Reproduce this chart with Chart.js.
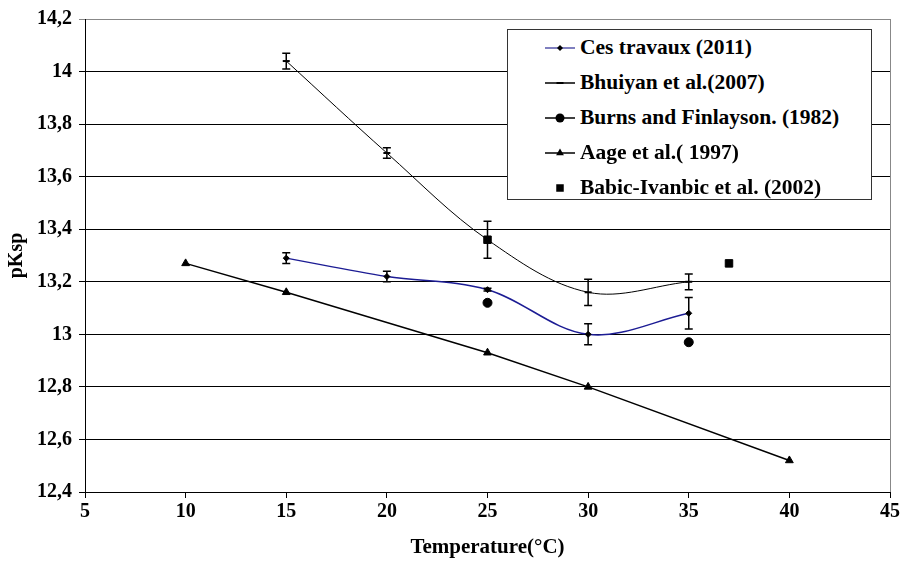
<!DOCTYPE html>
<html>
<head>
<meta charset="utf-8">
<script src="https://cdn.jsdelivr.net/npm/chart.js@4"></script>
<style>
  body { margin: 0; background: #fff; }
  #wrap { position: relative; width: 902px; height: 561px; }
  #legend {
    position: absolute; left: 507px; top: 29px; width: 363px; height: 169px;
    border: 1px solid #333; background: #fff;
    font-family: "Liberation Serif", "DejaVu Serif", serif; font-weight: bold; font-size: 21.5px; color: #000;
  }
  #legend .row { position: absolute; left: 0; height: 35px; display: flex; align-items: center; white-space: nowrap; }
  #legend svg { margin-left: 37px; margin-right: 5px; }
</style>
</head>
<body>
<div id="wrap">
  <canvas id="chart" width="902" height="561"></canvas>
  <div id="legend"></div>
</div>
<script>
const seriesNames = ['Ces travaux (2011)', 'Bhuiyan et al.(2007)', 'Burns and Finlayson. (1982)', 'Aage et al.( 1997)', 'Babic-Ivanbic et al. (2002)'];

const cesX = [15, 20, 25, 30, 35];
const cesY = [13.29, 13.22, 13.17, 13.00, 13.08];
const cesErr = [0.02, 0.02, 0.005, 0.04, 0.06];

const bhuiyanX = [15, 20, 25, 30, 35];
const bhuiyanY = [14.04, 13.69, 13.36, 13.16, 13.20];
const bhuiyanErr = [0.03, 0.02, 0.07, 0.05, 0.03];

const burnsX = [25, 35];
const burnsY = [13.12, 12.97];

const aageX = [10, 15, 25, 30, 40];
const aageY = [13.27, 13.16, 12.93, 12.80, 12.52];

const babicX = [25, 37];
const babicY = [13.36, 13.27];

const xTicks = [5, 10, 15, 20, 25, 30, 35, 40, 45];
const yTicks = [12.4, 12.6, 12.8, 13, 13.2, 13.4, 13.6, 13.8, 14, 14.2];

const pts = (xs, ys) => xs.map((x, i) => ({ x, y: ys[i] }));
const fmt = (v) => String(Number(v.toFixed(1))).replace('.', ',');
const serif = '"Liberation Serif", "DejaVu Serif", serif';

// legendLine: the swatch line drawn in the legend box (Excel keeps it even for marker-only series)
const styles = [
  { line: '#1c1c94', lineWidth: 1.5, shape: 'rectRot', r: 3, tension: 0.35, legendLine: '#5555aa' },
  { line: '#000', lineWidth: 1, shape: 'line', r: 3.5, tension: 0.35, legendLine: '#000' },
  { line: null, shape: 'circle', r: 4.5, legendLine: '#000' },
  { line: '#000', lineWidth: 1.5, shape: 'triangle', r: 4.5, tension: 0, legendLine: '#000' },
  { line: null, shape: 'rect', r: 5.3, legendLine: null },
];
const series = [pts(cesX, cesY), pts(bhuiyanX, bhuiyanY), pts(burnsX, burnsY), pts(aageX, aageY), pts(babicX, babicY)];
const errors = [cesErr, bhuiyanErr, null, null, null];

const datasets = series.map((data, i) => {
  const s = styles[i];
  return {
    label: seriesNames[i],
    data,
    showLine: !!s.line,
    borderColor: s.line || '#000',
    borderWidth: s.lineWidth || 1,
    tension: s.tension || 0,
    pointStyle: s.shape,
    pointRadius: s.r,
    pointHoverRadius: s.r,
    pointBackgroundColor: '#000',
    pointBorderColor: '#000',
    pointBorderWidth: s.shape === 'line' ? 2 : 1,
  };
});

const errorBars = {
  id: 'errorBars',
  afterDatasetsDraw(chart) {
    const { ctx, scales: { x, y } } = chart;
    ctx.save();
    ctx.strokeStyle = '#000';
    ctx.lineWidth = 1.5;
    errors.forEach((errs, i) => {
      if (!errs) return;
      series[i].forEach((p, j) => {
        const px = x.getPixelForValue(p.x);
        const top = y.getPixelForValue(p.y + errs[j]);
        const bot = y.getPixelForValue(p.y - errs[j]);
        ctx.beginPath();
        ctx.moveTo(px, top); ctx.lineTo(px, bot);
        ctx.moveTo(px - 4, top); ctx.lineTo(px + 4, top);
        ctx.moveTo(px - 4, bot); ctx.lineTo(px + 4, bot);
        ctx.stroke();
      });
    });
    // light frame edge on the right of the plot
    const a = chart.chartArea;
    ctx.strokeStyle = '#888';
    ctx.lineWidth = 1;
    ctx.beginPath();
    ctx.moveTo(Math.round(a.right) + 0.5, a.top);
    ctx.lineTo(Math.round(a.right) + 0.5, a.bottom);
    ctx.stroke();
    ctx.restore();
  },
};

new Chart(document.getElementById('chart'), {
  type: 'scatter',
  data: { datasets },
  plugins: [errorBars],
  options: {
    responsive: false,
    devicePixelRatio: 1,
    animation: false,
    layout: { padding: { top: 13, right: 12, left: 0, bottom: 0 } },
    plugins: { legend: { display: false }, tooltip: { enabled: false } },
    scales: {
      x: {
        type: 'linear',
        min: 5,
        max: 45,
        afterBuildTicks: (s) => { s.ticks = xTicks.map((v) => ({ value: v })); },
        afterFit: (s) => { s.height = 69; },
        ticks: { color: '#000', padding: 2, maxRotation: 0, font: { family: serif, size: 20, weight: 'bold' } },
        grid: { drawOnChartArea: false, tickLength: 6, color: '#000' },
        border: { color: '#000', width: 1 },
        title: { display: true, text: 'Temperature(°C)', color: '#000', padding: { top: 0, bottom: 1 }, font: { family: serif, size: 21, weight: 'bold' } },
      },
      y: {
        min: 12.4,
        max: 14.2,
        afterBuildTicks: (s) => { s.ticks = yTicks.map((v) => ({ value: v })); },
        afterFit: (s) => { s.width = 85; },
        ticks: { color: '#000', padding: 7, callback: (v) => fmt(v), font: { family: serif, size: 20, weight: 'bold' } },
        grid: {
          tickLength: 6,
          color: (c) => (c.tick && Math.abs(c.tick.value - 14.2) < 1e-6 ? '#888' : '#000'),
        },
        border: { color: '#000', width: 1 },
        title: { display: true, text: 'pKsp', color: '#000', padding: { top: 5, bottom: 0 }, font: { family: serif, size: 20, weight: 'bold' } },
      },
    },
  },
});

// legend box, drawn as html inside the plot
const legend = document.getElementById('legend');
seriesNames.forEach((name, i) => {
  const s = styles[i];
  const row = document.createElement('div');
  row.className = 'row';
  row.style.top = (i * 35) + 'px';
  const cx = 15, cy = 8;
  let mark = '';
  if (s.shape === 'rectRot') mark = `<polygon points="${cx - 3},${cy} ${cx},${cy - 3} ${cx + 3},${cy} ${cx},${cy + 3}" fill="#000"/>`;
  if (s.shape === 'line') mark = `<line x1="${cx - 3.5}" y1="${cy}" x2="${cx + 3.5}" y2="${cy}" stroke="#000" stroke-width="2"/>`;
  if (s.shape === 'circle') mark = `<circle cx="${cx}" cy="${cy}" r="4.5" fill="#000"/>`;
  if (s.shape === 'triangle') mark = `<polygon points="${cx},${cy - 4.5} ${cx + 3.9},${cy + 2.3} ${cx - 3.9},${cy + 2.3}" fill="#000"/>`;
  if (s.shape === 'rect') mark = `<rect x="${cx - 3.75}" y="${cy - 3.75}" width="7.5" height="7.5" fill="#000"/>`;
  const ln = s.legendLine ? `<line x1="0" y1="${cy}" x2="30" y2="${cy}" stroke="${s.legendLine}" stroke-width="1.5"/>` : '';
  row.innerHTML = `<svg width="30" height="16">${ln}${mark}</svg><span>${name}</span>`;
  legend.appendChild(row);
});
</script>
</body>
</html>
